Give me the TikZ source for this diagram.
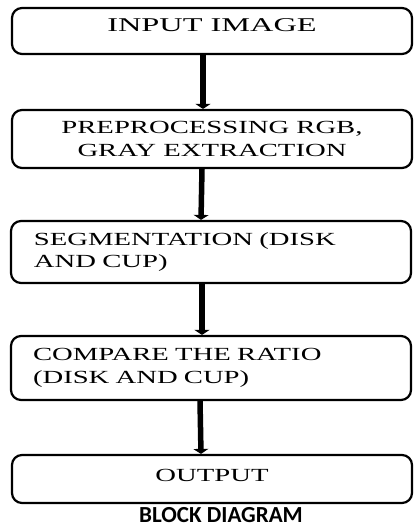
\documentclass[tikz,border=0pt]{standalone}
\usepackage{fontspec}
\setmainfont{Liberation Serif}
\newfontfamily\boxfont[FakeStretch=1.55]{Liberation Serif}
\newfontfamily\wideboxfont[FakeStretch=1.66]{Liberation Serif}
\newfontfamily\captionfont{Carlito}
\usepackage{tikz}
\usetikzlibrary{arrows.meta,calc}
\tikzset{%
        block/.style = {
            draw = black,
            line width = 2.2pt,
            rounded corners = 10pt,
            minimum width = 400pt,
            inner xsep = 0pt,
            font = \boxfont\fontsize{18.5}{22.5}\selectfont
        },
        flow/.style = {
            -{Triangle[width=15pt,length=5pt]},
            line width = 5.5pt,
            draw = black
        }
}

\begin{document}
\begin{tikzpicture}[x=1pt,y=-1pt]
            \useasboundingbox (0,0) rectangle (413,528);
            \node[block, minimum height=46pt, text depth=11pt,
                  font=\wideboxfont\fontsize{19.5}{23}\selectfont] (input) at (212,31) {INPUT IMAGE};
            \node[block, minimum height=58pt, align=center] (prep) at (212,139) {PREPROCESSING RGB,\\GRAY EXTRACTION};
            \node[block, minimum height=62pt, align=left, text width=354pt] (seg) at (211,252) {SEGMENTATION (DISK\\AND CUP)};
            \node[block, minimum height=64pt, align=left, text width=356pt] (ratio) at (211,368) {COMPARE THE RATIO\\(DISK AND CUP)};
            \node[block, minimum height=48pt, text depth=8pt] (out) at (212,479) {OUTPUT};
            \node[font=\captionfont\bfseries\fontsize{23}{26}\selectfont, inner sep=0pt, anchor=base] (caption) at (221,522) {BLOCK DIAGRAM};
            \path
                ([xshift=-9pt]input.south) edge[flow] ([xshift=-9pt]prep.north)
                ([xshift=-10pt]prep.south) edge[flow] ([xshift=-10pt]seg.north)
                ([xshift=-9pt]seg.south) edge[flow] ([xshift=-9pt]ratio.north)
                ([xshift=-11pt]ratio.south) edge[flow] ([xshift=-11pt]out.north)
                ;
        \end{tikzpicture}
\end{document}
